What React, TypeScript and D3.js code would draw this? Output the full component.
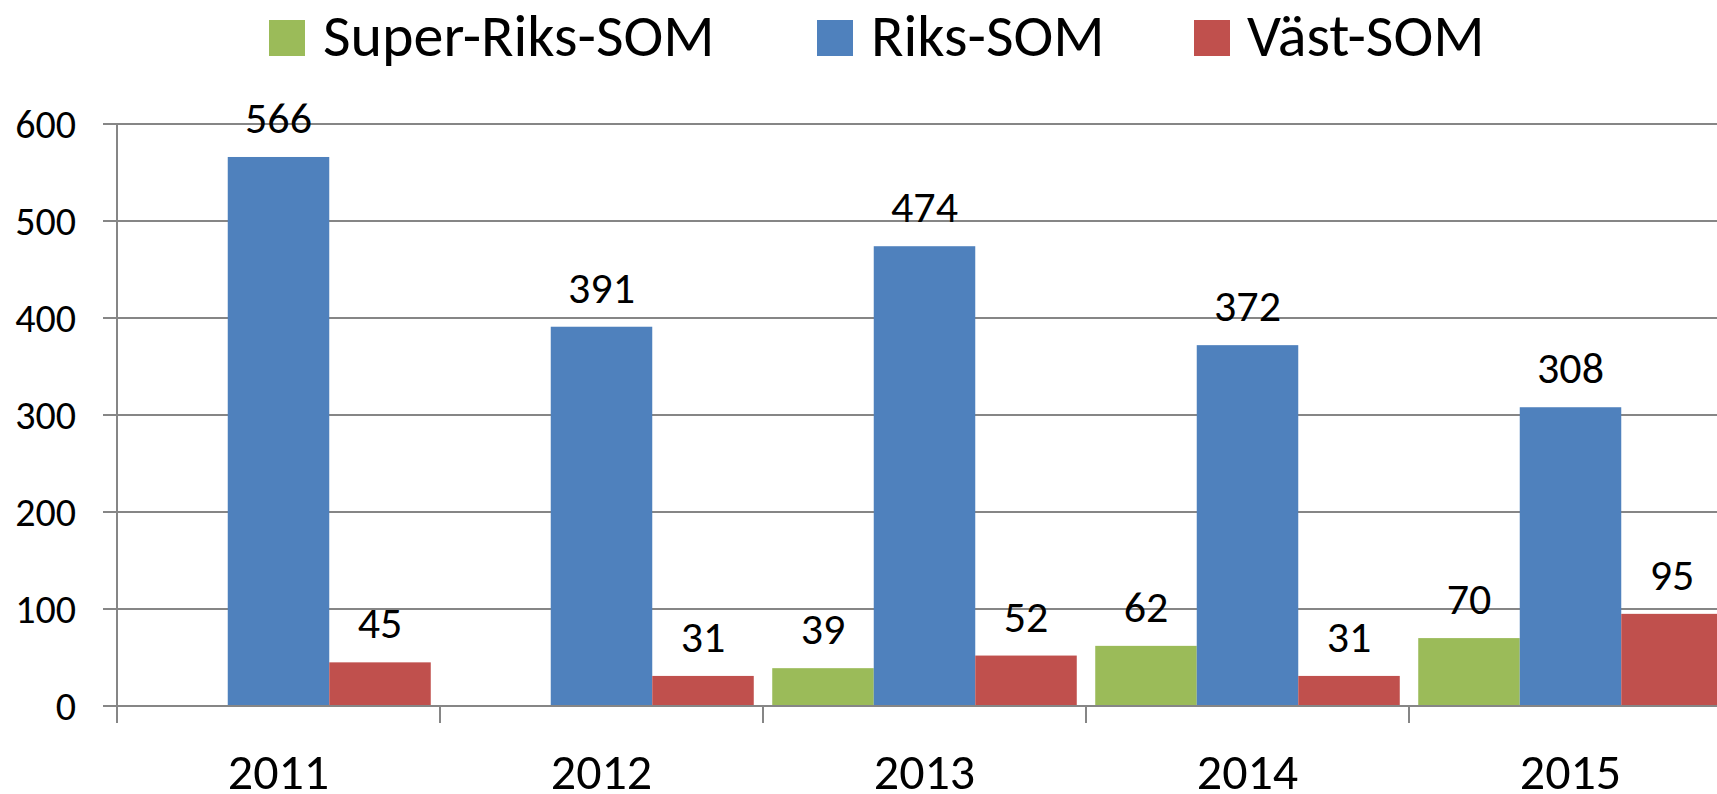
import React from 'react';
import * as d3 from 'd3';

// values
const categories = ['2011', '2012', '2013', '2014', '2015'];
const seriesNames = ['Super-Riks-SOM', 'Riks-SOM', 'Väst-SOM'];
const superRiksSom: (number | null)[] = [null, null, 39, 62, 70];
const riksSom: (number | null)[] = [566, 391, 474, 372, 308];
const vastSom: (number | null)[] = [45, 31, 52, 31, 95];
const yTicks = [0, 100, 200, 300, 400, 500, 600];

const colors = ['#9BBB59', '#4F81BD', '#C0504D'];
const seriesValues = [superRiksSom, riksSom, vastSom];

const totalWidth = 1717;
const totalHeight = 794;
const left = 117;
const step = 323;
const top = 124;
const bottom = 706;
const font = 'Carlito, Calibri, Lato, sans-serif';
const gridColor = '#868686';

// legend x positions (square, text)
const legendPos = [
  [269, 323],
  [817, 871],
  [1194, 1247],
];

export default function App() {
  const x = d3
    .scaleBand<string>()
    .domain(categories)
    .range([left, left + step * categories.length])
    .paddingInner(0)
    .paddingOuter(0);

  const xs = d3
    .scaleBand<string>()
    .domain(seriesNames)
    .range([0, x.bandwidth()])
    .paddingInner(0)
    .paddingOuter(0.091);

  const y = d3.scaleLinear().domain([0, 600]).range([bottom, top]);

  const boundaries = categories.map((c) => x(c) as number);

  return (
    <div style={{ position: 'absolute', left: 0, top: 0 }}>
      <svg width={totalWidth} height={totalHeight} style={{ display: 'block', background: '#fff' }}>
        {/* gridlines + y ticks */}
        {yTicks.map((t) => (
          <g key={t}>
            <line x1={103} x2={totalWidth} y1={y(t)} y2={y(t)} stroke={gridColor} strokeWidth={2} />
            <text
              x={76}
              y={y(t) + 14}
              textAnchor="end"
              fontFamily={font}
              fontSize={40}
              fill="#000"
            >
              {t}
            </text>
          </g>
        ))}

        {/* bars */}
        {seriesValues.map((vals, si) =>
          vals.map((v, ci) => {
            if (v == null) return null;
            const bx = (x(categories[ci]) as number) + (xs(seriesNames[si]) as number);
            return (
              <rect
                key={`${si}-${ci}`}
                x={bx}
                y={y(v)}
                width={xs.bandwidth()}
                height={bottom - y(v)}
                fill={colors[si]}
              />
            );
          })
        )}

        {/* value labels */}
        {seriesValues.map((vals, si) =>
          vals.map((v, ci) => {
            if (v == null) return null;
            const cx = (x(categories[ci]) as number) + (xs(seriesNames[si]) as number) + xs.bandwidth() / 2;
            return (
              <text
                key={`l-${si}-${ci}`}
                x={cx}
                y={y(v) - 24}
                textAnchor="middle"
                fontFamily={font}
                fontSize={44}
                fill="#000"
              >
                {v}
              </text>
            );
          })
        )}

        {/* axes */}
        <line x1={left} x2={left} y1={top} y2={723} stroke={gridColor} strokeWidth={2} />
        <line x1={103} x2={totalWidth} y1={bottom} y2={bottom} stroke={gridColor} strokeWidth={2} />
        {boundaries.map((b, i) => (
          <line key={i} x1={b} x2={b} y1={bottom} y2={723} stroke={gridColor} strokeWidth={2} />
        ))}

        {/* category labels */}
        {categories.map((c) => (
          <text
            key={c}
            x={(x(c) as number) + x.bandwidth() / 2}
            y={789}
            textAnchor="middle"
            fontFamily={font}
            fontSize={50}
            fill="#000"
          >
            {c}
          </text>
        ))}

        {/* legend */}
        {seriesNames.map((name, i) => (
          <g key={name}>
            <rect x={legendPos[i][0]} y={20} width={36} height={36} fill={colors[i]} />
            <text x={legendPos[i][1]} y={56} fontFamily={font} fontSize={60} fill="#000">
              {name}
            </text>
          </g>
        ))}
      </svg>
    </div>
  );
}
